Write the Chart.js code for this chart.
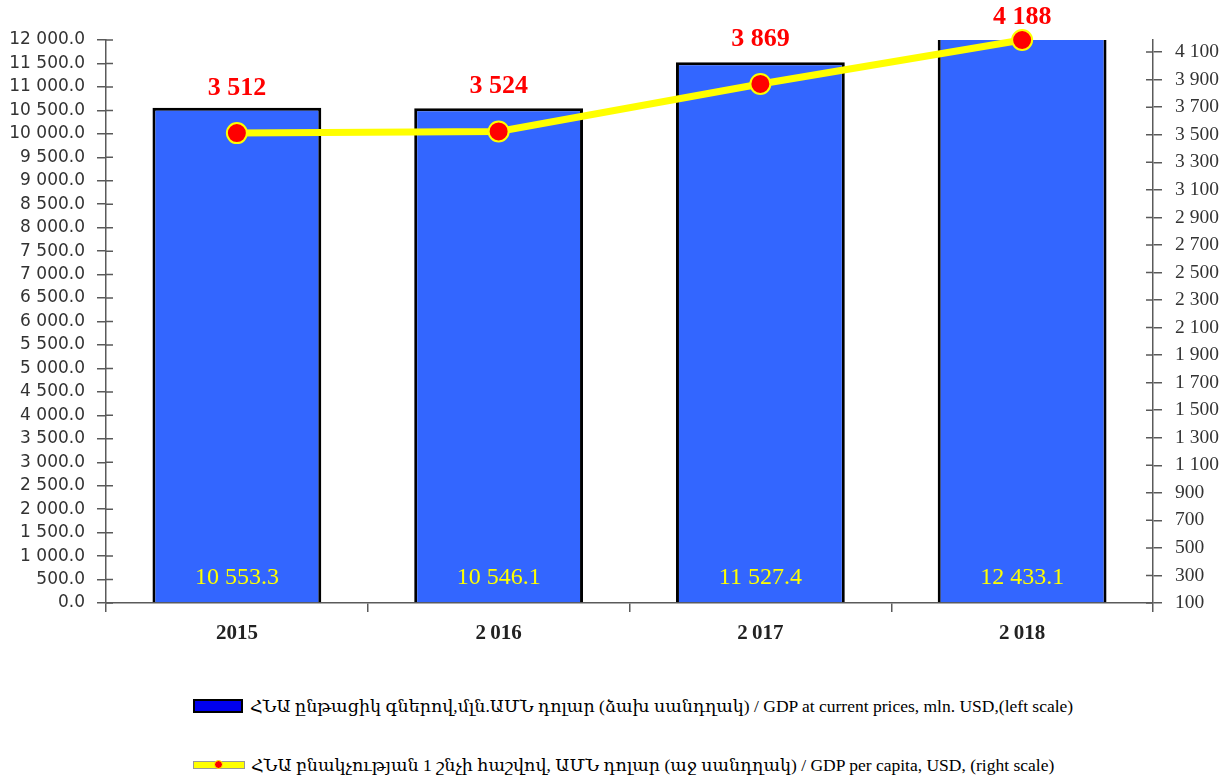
<!DOCTYPE html>
<html>
<head>
<meta charset="utf-8">
<script src="https://cdn.jsdelivr.net/npm/chart.js@4.4.0/dist/chart.umd.min.js"></script>
<style>
  body { margin: 0; background: #fff; }
  #wrap { position: relative; width: 1232px; height: 776px; }
  #chartBox { position: absolute; left: 0; top: 0; width: 1232px; height: 660px; }
  .leg { position: absolute; left: 193px; height: 20px; display: flex; align-items: center;
         font-family: "Liberation Serif", "DejaVu Serif", serif; font-size: 17.5px; color: #000; white-space: nowrap; }
  .sw-bar { width: 46px; height: 10px; background: #0000EE; border: 2px solid #000; margin-right: 7px; }
  .sw-line { position: relative; width: 50px; height: 6px; background: #FFFF00; border: 1px solid #999; margin-right: 6px; }
  .sw-line i { position: absolute; left: 20px; top: -2px; width: 7px; height: 7px; border-radius: 50%;
               background: #FF0000; border: 1px solid #FFFF00; }
</style>
</head>
<body>
<div id="wrap">
  <div id="chartBox"><canvas id="gdp-graph"></canvas></div>
  <div class="leg" style="top:696px"><span class="sw-bar"></span><span id="leg1"></span></div>
  <div class="leg" style="top:755px"><span class="sw-line"><i></i></span><span id="leg2"></span></div>
</div>
<script>
const years = ['2015', '2\u2009016', '2\u2009017', '2\u2009018'];
const gdpValues = [10553.3, 10546.1, 11527.4, 12433.1];
const perCapitaValues = [3512, 3524, 3869, 4188];
const gdpLabel = 'ՀՆԱ ընթացիկ գներով,մլն.ԱՄՆ դոլար (ձախ սանդղակ) / GDP at current prices, mln. USD,(left scale)';
const perCapitaLabel = 'ՀՆԱ բնակչության 1 շնչի հաշվով, ԱՄՆ դոլար (աջ սանդղակ) / GDP per capita, USD, (right scale)';

document.getElementById('leg1').textContent = gdpLabel;
document.getElementById('leg2').textContent = perCapitaLabel;

const axisColor = '#5a5a5a';

function fmt(v, dec) {
    let parts = v.toFixed(dec).split('.');
    let intPart = parts[0].replace(/\B(?=(\d{3})+(?!\d))/g, ' ');
    return parts[1] ? intPart + '.' + parts[1] : intPart;
}

// value labels: yellow inside the bars, red above the points
const valueLabels = {
    id: 'valueLabels',
    afterDatasetsDraw(chart) {
        const ctx = chart.ctx;
        ctx.save();
        ctx.textAlign = 'center';
        ctx.textBaseline = 'middle';
        ctx.font = '24px "Liberation Serif"';
        ctx.fillStyle = '#FFFF00';
        chart.getDatasetMeta(1).data.forEach((bar, i) => {
            ctx.fillText(fmt(gdpValues[i], 1), bar.x, chart.scales.y.bottom - 25);
        });
        ctx.font = 'bold 26px "Liberation Serif"';
        ctx.fillStyle = '#FF0000';
        chart.getDatasetMeta(0).data.forEach((pt, i) => {
            ctx.fillText(fmt(perCapitaValues[i], 0), pt.x, Math.max(pt.y - 45, 17));
        });
        ctx.restore();
    }
};

// the y axes have ticks that cross the axis line
const innerTicks = {
    id: 'innerTicks',
    afterDraw(chart) {
        const ctx = chart.ctx;
        const y = chart.scales.y, y1 = chart.scales.y1;
        ctx.save();
        ctx.strokeStyle = axisColor;
        ctx.lineWidth = 1.5;
        ctx.beginPath();
        y.ticks.forEach(t => {
            const py = y.getPixelForValue(t.value);
            ctx.moveTo(y.right, py);
            ctx.lineTo(y.right + 7, py);
        });
        y1.ticks.forEach(t => {
            const py = y1.getPixelForValue(t.value);
            ctx.moveTo(y1.left, py);
            ctx.lineTo(y1.left - 7, py);
        });
        ctx.stroke();
        ctx.restore();
    }
};

new Chart(document.getElementById('gdp-graph'), {
    data: {
        labels: years,
        datasets: [
            {
                type: 'line',
                label: perCapitaLabel,
                data: perCapitaValues,
                yAxisID: 'y1',
                borderColor: '#FFFF00',
                borderWidth: 7,
                pointRadius: 10,
                pointBackgroundColor: '#FF0000',
                pointBorderColor: '#FFFF00',
                pointBorderWidth: 2,
                tension: 0,
                clip: false,
                order: 0
            },
            {
                type: 'bar',
                label: gdpLabel,
                data: gdpValues,
                yAxisID: 'y',
                backgroundColor: '#3366FF',
                borderColor: '#000',
                borderWidth: 3,
                borderSkipped: 'start',
                categoryPercentage: 1,
                barPercentage: 0.645,
                clip: 0,
                order: 1
            }
        ]
    },
    options: {
        responsive: true,
        maintainAspectRatio: false,
        animation: false,
        layout: { padding: { top: 40, left: 0, right: 0, bottom: 0 } },
        plugins: {
            legend: { display: false },
            tooltip: { enabled: false }
        },
        scales: {
            x: {
                offset: true,
                grid: { offset: true, drawOnChartArea: false, tickLength: 9, color: axisColor, lineWidth: 1.5 },
                border: { color: axisColor, width: 1.5 },
                ticks: { color: '#222', padding: 9, font: { family: 'Liberation Serif', size: 21, weight: 'bold' } },
                afterFit(scale) { scale.height = 57; }
            },
            y: {
                position: 'left',
                min: 0,
                max: 12000,
                grid: { drawOnChartArea: false, tickLength: 9, color: axisColor, lineWidth: 1.5 },
                border: { color: axisColor, width: 1.5 },
                ticks: {
                    stepSize: 500,
                    padding: 12,
                    color: '#333',
                    font: { family: 'DejaVu Sans', size: 17 },
                    callback: v => fmt(v, 1)
                },
                afterFit(scale) { scale.width = 106; }
            },
            y1: {
                position: 'right',
                min: 100,
                max: 4188,
                grid: { drawOnChartArea: false, tickLength: 9, color: axisColor, lineWidth: 1.5 },
                border: { color: axisColor, width: 1.5 },
                ticks: {
                    padding: 13,
                    color: '#333',
                    font: { family: 'Liberation Serif', size: 19.5 },
                    callback: v => fmt(v, 0)
                },
                afterBuildTicks(scale) {
                    // right axis ticks run 100, 300, ... 4100
                    const ticks = [];
                    for (let v = 100; v <= 4100; v += 200) ticks.push({ value: v });
                    scale.ticks = ticks;
                },
                afterFit(scale) { scale.width = 79; }
            }
        }
    },
    plugins: [valueLabels, innerTicks]
});
</script>
</body>
</html>
